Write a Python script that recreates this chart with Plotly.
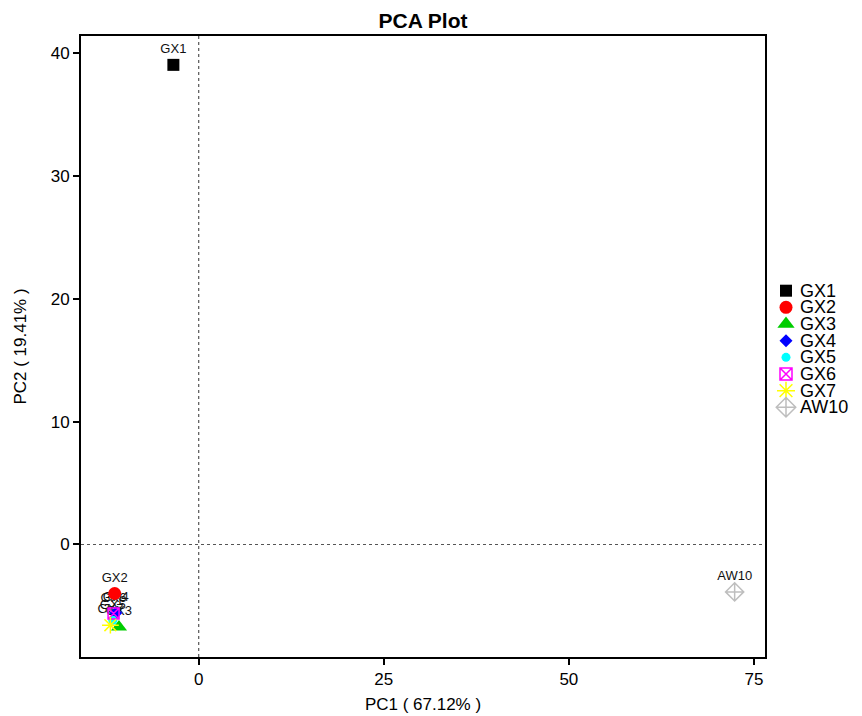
import plotly.graph_objects as go

# ---- data ----
samples = ["GX1", "GX2", "GX3", "GX4", "GX5", "GX6", "GX7", "AW10"]
pc1 = [-3.42, -11.35, -10.77, -11.2, -11.6, -11.5, -11.93, 72.4]
pc2 = [39.05, -3.99, -6.71, -5.57, -6.17, -5.62, -6.57, -3.86]
x_ticks = [0, 25, 50, 75]
y_ticks = [0, 10, 20, 30, 40]
x_title = "PC1 ( 67.12% )"
y_title = "PC2 ( 19.41% )"
chart_title = "PCA Plot"

# ---- styles ----
colors = ["#000000", "#FF0000", "#00CD00", "#0000FF", "#00FFFF", "#FF00FF", "#FFFF00", "#BEBEBE"]
symbols = ["square", "circle", "triangle-up", "diamond", "circle", "square-x-open", "asterisk-open", "diamond-cross-open"]
sizes = [12, 13, 14, 10, 9, 11, 14, 14]
leg_sizes = [12, 13, 15, 10, 9, 12, 15, 15]
FONT = "Liberation Sans, Arial, Helvetica, sans-serif"

fig = go.Figure()

# point labels (drawn first so markers sit above them)
fig.add_trace(go.Scatter(
    x=pc1, y=pc2, mode="markers+text", text=samples, textposition="top center",
    textfont=dict(family=FONT, size=13, color="#111111"),
    marker=dict(size=12, opacity=0), showlegend=False, hoverinfo="skip",
    xaxis="x", yaxis="y"))

for i, s in enumerate(samples):
    fig.add_trace(go.Scatter(
        x=[pc1[i]], y=[pc2[i]], mode="markers", name=s, showlegend=False,
        marker=dict(symbol=symbols[i], size=sizes[i], color=colors[i],
                    line=dict(color=colors[i], width=1.5 if "open" in symbols[i] else 0)),
        xaxis="x", yaxis="y"))

# custom legend drawn on its own small axis pair
leg_y = [-i for i in range(len(samples))]
for i, s in enumerate(samples):
    fig.add_trace(go.Scatter(
        x=[20], y=[leg_y[i]], mode="markers", showlegend=False, hoverinfo="skip",
        marker=dict(symbol=symbols[i], size=leg_sizes[i], color=colors[i],
                    line=dict(color=colors[i], width=1.5 if "open" in symbols[i] else 0)),
        xaxis="x2", yaxis="y2"))

annotations = []
for i, s in enumerate(samples):
    annotations.append(dict(x=32, y=leg_y[i], xref="x2", yref="y2", text=s,
                            showarrow=False, xanchor="left", yanchor="middle",
                            font=dict(family=FONT, size=18, color="#000000")))

shapes = [
    dict(type="line", xref="x", yref="y domain", x0=0, x1=0, y0=0, y1=1,
         line=dict(color="#555555", width=1.2, dash="dot"), layer="below"),
    dict(type="line", xref="x domain", yref="y", x0=0, x1=1, y0=0, y1=0,
         line=dict(color="#555555", width=1.2, dash="dot"), layer="below"),
]

axis_common = dict(showgrid=False, zeroline=False, showline=True, mirror=True,
                   linecolor="#000000", linewidth=2, ticks="outside", ticklen=6,
                   tickwidth=1.5, tickcolor="#000000",
                   tickfont=dict(family=FONT, size=17, color="#000000"))

fig.update_layout(
    width=862, height=716,
    margin=dict(l=81, r=0, t=36, b=59),
    paper_bgcolor="white", plot_bgcolor="white",
    title=dict(text="<b>" + chart_title + "</b>", x=423 / 862, xref="container", xanchor="center",
               y=1 - 21 / 716, yref="container", yanchor="middle",
               font=dict(family=FONT, size=21, color="#000000")),
    xaxis=dict(domain=[0, 684 / 781], range=[-15.9, 76.5], tickvals=x_ticks,
               title=dict(text=x_title, standoff=10, font=dict(family=FONT, size=17, color="#000000")),
               **axis_common),
    yaxis=dict(domain=[0, 1], range=[-9.16, 41.4], tickvals=y_ticks,
               title=dict(text=y_title, standoff=20, font=dict(family=FONT, size=17, color="#000000")),
               **axis_common),
    xaxis2=dict(domain=[685 / 781, 1], range=[0, 96], visible=False, anchor="y2"),
    yaxis2=dict(domain=[0, 1], range=[-21.99, 15.29], visible=False, anchor="x2"),
    shapes=shapes,
    annotations=annotations,
    showlegend=False,
)

fig.write_html("out.html")
